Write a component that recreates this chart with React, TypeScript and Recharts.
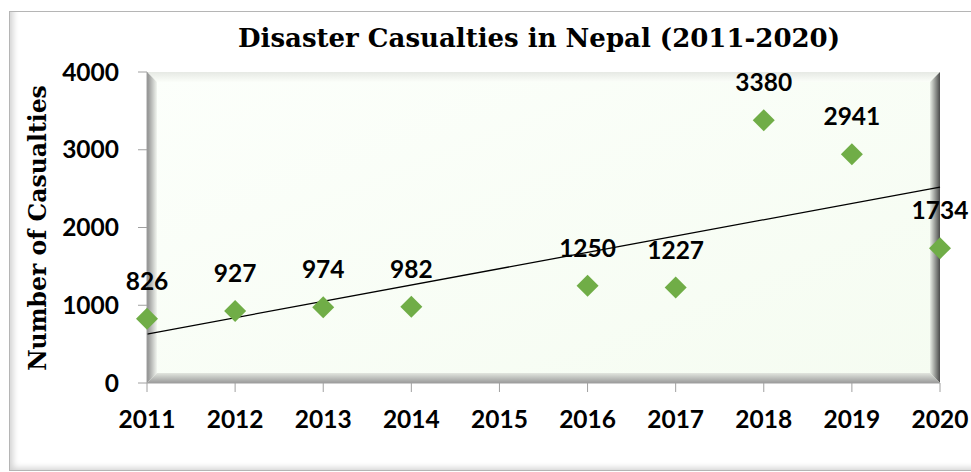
import React from 'react';
import { LineChart, Line, XAxis, YAxis, ReferenceArea, LabelList } from 'recharts';

const years = ['2011', '2012', '2013', '2014', '2015', '2016', '2017', '2018', '2019', '2020'];
const casualties: (number | null)[] = [826, 927, 974, 982, null, 1250, 1227, 3380, 2941, 1734];
// linear trend line, end values
const trend: (number | null)[] = [630, null, null, null, null, null, null, null, null, 2520];
const yTicks = [0, 1000, 2000, 3000, 4000];

const data = years.map((year, i) => ({ year, casualties: casualties[i], trend: trend[i] }));

const GREEN = '#70ad47';
const TICK_FONT = { fontFamily: 'Lato', fontWeight: 700, fontSize: 24.5, fill: '#000' };

const Diamond = (props: any) => {
  const { cx, cy, value } = props;
  if (value == null || cx == null || cy == null) return null;
  const r = 11;
  return (
    <polygon
      points={`${cx},${cy - r} ${cx + r},${cy} ${cx},${cy + r} ${cx - r},${cy}`}
      fill={GREEN}
    />
  );
};

const PointLabel = (props: any) => {
  const { x, y, value } = props;
  if (value == null) return null;
  return (
    <text x={x} y={y - 29} textAnchor="middle" {...TICK_FONT}>
      {value}
    </text>
  );
};

// plot area with a bevelled frame, like the Excel original
const BevelPlot = (props: any) => {
  const { x, y, width: w, height: h } = props;
  const b = 10;
  return (
    <g>
      <defs>
        <linearGradient id="plotFill" x1="0" y1="0" x2="1" y2="1">
          <stop offset="0%" stopColor="#fcfffb" />
          <stop offset="100%" stopColor="#f5fcf1" />
        </linearGradient>
        <linearGradient id="bevLeft" x1="0" y1="0" x2="1" y2="0">
          <stop offset="0%" stopColor="#8c8c8c" />
          <stop offset="100%" stopColor="#f2f6f0" />
        </linearGradient>
        <linearGradient id="bevTop" x1="0" y1="0" x2="0" y2="1">
          <stop offset="0%" stopColor="#e6e9e4" />
          <stop offset="100%" stopColor="#fbfef9" />
        </linearGradient>
        <linearGradient id="bevRight" x1="0" y1="0" x2="1" y2="0">
          <stop offset="0%" stopColor="#e8ede5" />
          <stop offset="100%" stopColor="#4a4a4a" />
        </linearGradient>
        <linearGradient id="bevBottom" x1="0" y1="0" x2="0" y2="1">
          <stop offset="0%" stopColor="#e2e6df" />
          <stop offset="100%" stopColor="#9a9a9a" />
        </linearGradient>
      </defs>
      <rect x={x} y={y} width={w} height={h} fill="url(#plotFill)" />
      <polygon points={`${x},${y} ${x + w},${y} ${x + w - b},${y + b} ${x + b},${y + b}`} fill="url(#bevTop)" />
      <polygon points={`${x},${y} ${x + b},${y + b} ${x + b},${y + h - b} ${x},${y + h}`} fill="url(#bevLeft)" />
      <polygon points={`${x + w},${y} ${x + w},${y + h} ${x + w - b},${y + h - b} ${x + w - b},${y + b}`} fill="url(#bevRight)" />
      <polygon points={`${x},${y + h} ${x + b},${y + h - b} ${x + w - b},${y + h - b} ${x + w},${y + h}`} fill="url(#bevBottom)" />
    </g>
  );
};

const App: React.FC = () => {
  return (
    <div style={{ position: 'fixed', left: 0, top: 0, width: 971, height: 472, background: '#fff' }}>
      <div
        style={{
          position: 'absolute',
          left: 9,
          top: 11,
          width: 975,
          height: 458,
          border: '1px solid #b5b5b5',
          boxShadow: 'inset 6px -5px 6px -3px rgba(0,0,0,0.18)',
        }}
      />
      <div style={{ position: 'absolute', left: 0, top: 0 }}>
        <LineChart width={971} height={472} data={data} margin={{ top: 72, right: 31, bottom: 49, left: 47 }}>
          <text
            x={539}
            y={47}
            textAnchor="middle"
            style={{ fontFamily: 'DejaVu Serif', fontWeight: 700, fontSize: 26, fill: '#000' }}
          >
            Disaster Casualties in Nepal (2011-2020)
          </text>
          <text
            transform="translate(46 228) rotate(-90)"
            textAnchor="middle"
            style={{ fontFamily: 'DejaVu Serif', fontWeight: 700, fontSize: 23.5, fill: '#000' }}
          >
            Number of Casualties
          </text>
          <ReferenceArea x1="2011" x2="2020" y1={0} y2={4000} shape={<BevelPlot />} ifOverflow="visible" />
          <XAxis
            dataKey="year"
            interval={0}
            height={40}
            tickSize={9}
            tickMargin={19}
            axisLine={{ stroke: '#a0a0a0' }}
            tickLine={{ stroke: '#a0a0a0' }}
            tick={TICK_FONT}
          />
          <YAxis
            domain={[0, 4000]}
            ticks={yTicks}
            width={100}
            tickSize={9}
            tickMargin={19}
            axisLine={{ stroke: '#a0a0a0' }}
            tickLine={{ stroke: '#a0a0a0' }}
            tick={TICK_FONT}
          />
          <Line
            dataKey="trend"
            stroke="#000"
            strokeWidth={1.3}
            dot={false}
            connectNulls
            isAnimationActive={false}
          />
          <Line
            dataKey="casualties"
            stroke="none"
            dot={<Diamond />}
            activeDot={false}
            isAnimationActive={false}
          >
            <LabelList dataKey="casualties" content={<PointLabel />} />
          </Line>
        </LineChart>
      </div>
    </div>
  );
};

export default App;
